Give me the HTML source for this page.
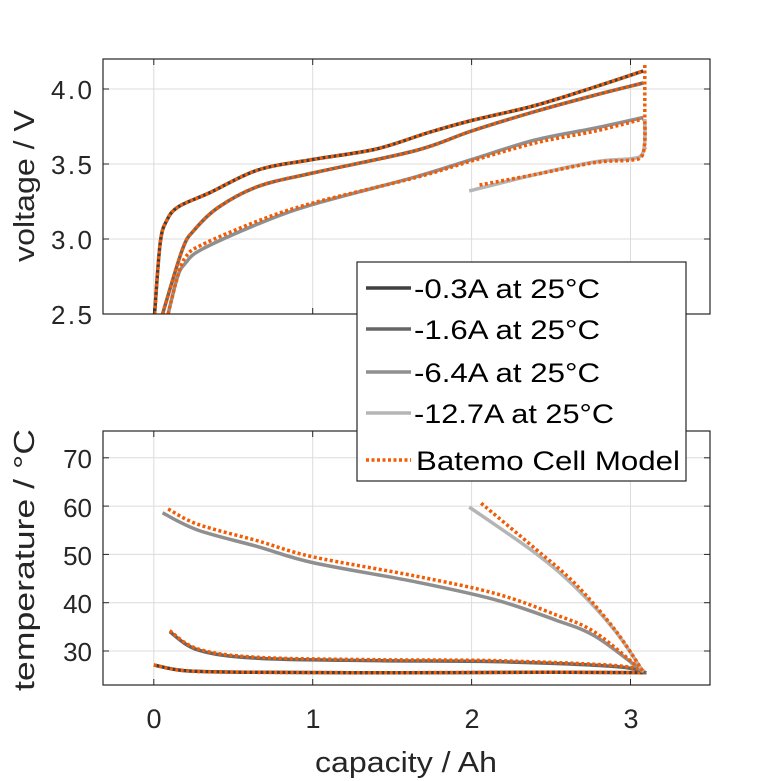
<!DOCTYPE html>
<html><head><meta charset="utf-8"><style>
body{margin:0;background:#fff}
svg{display:block;font-family:"Liberation Sans",sans-serif}
</style></head><body>
<svg id="s" width="781" height="781" xmlns="http://www.w3.org/2000/svg">
<rect width="781" height="781" fill="#fff"/>
<g id="grid" stroke="#dcdcdc" stroke-width="1"></g>
<g id="curves" fill="none" stroke-linejoin="round" stroke-linecap="butt"></g>
<g fill="none" stroke="#262626" stroke-width="1.2">
<rect x="103" y="59" width="607" height="255"/>
<rect x="103" y="431" width="607" height="254"/>
</g>
<g id="ticks" stroke="#262626" stroke-width="1"></g>
<g font-size="26" fill="#262626" text-anchor="end">
<text x="92" y="99" textLength="41">4.0</text><text x="92" y="174" textLength="41">3.5</text><text x="92" y="249" textLength="41">3.0</text><text x="92" y="324" textLength="41">2.5</text>
<text x="92" y="468">70</text><text x="92" y="517">60</text><text x="92" y="565">50</text><text x="92" y="613">40</text><text x="92" y="661">30</text>
</g>
<g font-size="27" fill="#262626" text-anchor="middle">
<text x="154" y="728">0</text><text x="313" y="728">1</text><text x="472" y="728">2</text><text x="631" y="728">3</text>
<text x="406" y="772" font-size="29" textLength="182" lengthAdjust="spacingAndGlyphs">capacity / Ah</text>
<text transform="translate(34,186) rotate(-90)" font-size="29" textLength="152" lengthAdjust="spacingAndGlyphs">voltage / V</text>
<text transform="translate(34,560) rotate(-90)" font-size="29" textLength="262" lengthAdjust="spacingAndGlyphs">temperature / °C</text>
</g>
<g>
<rect x="357" y="262" width="329" height="219" fill="#fff" stroke="#262626" stroke-width="1.2"/>
<g stroke-width="3.5">
<line x1="366" y1="288" x2="411" y2="288" stroke="#404040"/>
<line x1="366" y1="329" x2="411" y2="329" stroke="#666"/>
<line x1="366" y1="372" x2="411" y2="372" stroke="#8f8f8f"/>
<line x1="366" y1="413" x2="411" y2="413" stroke="#b5b5b5"/>
<line x1="366" y1="460" x2="411" y2="460" stroke="#f25c05" stroke-dasharray="3 2.5"/>
</g>
<g font-size="27" fill="#000" lengthAdjust="spacingAndGlyphs">
<text x="414" y="298" textLength="186" lengthAdjust="spacingAndGlyphs">-0.3A at 25°C</text>
<text x="414" y="339" textLength="186" lengthAdjust="spacingAndGlyphs">-1.6A at 25°C</text>
<text x="414" y="382" textLength="186" lengthAdjust="spacingAndGlyphs">-6.4A at 25°C</text>
<text x="414" y="423" textLength="200" lengthAdjust="spacingAndGlyphs">-12.7A at 25°C</text>
<text x="416" y="470" textLength="264" lengthAdjust="spacingAndGlyphs">Batemo Cell Model</text>
</g>
</g>
</svg>
<script>
const X=x=>153.8+x*158.9, VY=v=>89+(4.0-v)*150, TY=t=>651-(t-30)*4.83;
const NS="http://www.w3.org/2000/svg";
function el(p,t,a){const e=document.createElementNS(NS,t);for(const k in a)e.setAttribute(k,a[k]);document.getElementById(p).appendChild(e);return e;}
[0,1,2,3].forEach(v=>{el("grid","line",{x1:X(v),x2:X(v),y1:59,y2:314});el("grid","line",{x1:X(v),x2:X(v),y1:431,y2:685});
 el("ticks","line",{x1:X(v),x2:X(v),y1:314,y2:308});el("ticks","line",{x1:X(v),x2:X(v),y1:59,y2:65});
 el("ticks","line",{x1:X(v),x2:X(v),y1:685,y2:679});el("ticks","line",{x1:X(v),x2:X(v),y1:431,y2:437});});
[4.0,3.5,3.0].forEach(v=>{el("grid","line",{x1:103,x2:710,y1:VY(v),y2:VY(v)});});
[2.5,3.0,3.5,4.0].forEach(v=>{el("ticks","line",{x1:103,x2:109,y1:VY(v),y2:VY(v)});el("ticks","line",{x1:710,x2:704,y1:VY(v),y2:VY(v)});});
[30,40,50,60,70].forEach(t=>{el("grid","line",{x1:103,x2:710,y1:TY(t),y2:TY(t)});el("ticks","line",{x1:103,x2:109,y1:TY(t),y2:TY(t)});el("ticks","line",{x1:710,x2:704,y1:TY(t),y2:TY(t)});});
function path(pts,fy,dx,dy){
 let P=pts.map(p=>[X(p[0]+(dx||0)),fy(p[1]+(dy||0))]);
 let d="M"+P[0][0]+","+P[0][1];
 for(let i=0;i<P.length-1;i++){const p0=P[Math.max(i-1,0)],p1=P[i],p2=P[i+1],p3=P[Math.min(i+2,P.length-1)];
  d+=" C"+(p1[0]+(p2[0]-p0[0])/6)+","+(p1[1]+(p2[1]-p0[1])/6)+" "+(p2[0]-(p3[0]-p1[0])/6)+","+(p2[1]-(p3[1]-p1[1])/6)+" "+p2[0]+","+p2[1];}
 return d;}
const OR="#f25c05";
function pair(pts,fy,col,opts){opts=opts||{};
 el("curves","path",{d:path(pts,fy),stroke:col,"stroke-width":3.5});
 el("curves","path",{d:path(opts.op||pts,fy,opts.dx,opts.dy),stroke:OR,"stroke-width":3.5,"stroke-dasharray":"3 2.5"});}
const v1=[[0.005,2.5],[0.04,2.97],[0.08,3.12],[0.155,3.215],[0.355,3.31],[0.655,3.46],[1.0,3.53],[1.4,3.6],[1.73,3.71],[2.0,3.79],[2.4,3.89],[2.78,4.015],[3.08,4.12]];
pair(v1,VY,"#404040");
el("curves","path",{d:"M"+X(3.09)+","+VY(4.16)+" L"+X(3.09)+","+VY(3.6),stroke:OR,"stroke-width":3.5,"stroke-dasharray":"3 2.5"});
const v2=[[0.055,2.5],[0.18,2.93],[0.255,3.06],[0.405,3.21],[0.655,3.35],[1.0,3.44],[1.65,3.59],[2.0,3.72],[2.4,3.85],[2.78,3.96],[3.08,4.04]];
pair(v2,VY,"#666");
const v3=[[0.09,2.5],[0.15,2.75],[0.2,2.84],[0.3,2.93],[0.655,3.1],[1.0,3.23],[1.65,3.415],[2.0,3.53],[2.4,3.66],[2.78,3.74],[3.08,3.81]];
pair(v3,VY,"#8f8f8f",{op:[[0.09,2.5],[0.15,2.75],[0.2,2.88],[0.3,2.96],[0.655,3.12],[1.0,3.24],[1.65,3.41],[2.0,3.52],[2.4,3.64],[2.78,3.72],[3.08,3.8]]});
const v4=[[1.985,3.32],[2.4,3.43],[2.78,3.515],[3.0,3.535],[3.07,3.56],[3.09,3.65],[3.09,3.8]];
pair(v4,VY,"#b5b5b5",{op:[[2.05,3.36],[2.4,3.43],[2.78,3.51],[3.0,3.525],[3.07,3.55],[3.09,3.65],[3.09,3.8]]});
const t1=[[0,27.1],[0.2,25.9],[0.6,25.6],[1.5,25.5],[2.5,25.6],[3.1,25.5]];
pair(t1,TY,"#404040");
const t2=[[0.1,34],[0.28,30.2],[0.65,28.5],[1.4,28.0],[2.15,27.8],[2.9,26.8],[3.1,25.5]];
pair(t2,TY,"#666",{dy:0.2});
const t3=[[0.055,58.6],[0.28,55],[0.655,51.6],[1.0,48.3],[1.65,44.3],[2.15,40.6],[2.53,36.4],[2.78,33],[3.08,25.7]];
pair(t3,TY,"#8f8f8f",{op:[[0.09,59.4],[0.28,56.2],[0.655,52.8],[1.0,49.5],[1.65,45.5],[2.15,41.9],[2.53,37.5],[2.78,33.8],[3.08,25.7]]});
const t4=[[1.985,59.8],[2.4,50.3],[2.65,43.3],[2.9,34.3],[3.08,25.7]];
pair(t4,TY,"#b5b5b5",{op:[[2.06,60.6],[2.4,51.2],[2.65,44],[2.9,34.5],[3.08,25.7]]});
</script>
</body></html>
